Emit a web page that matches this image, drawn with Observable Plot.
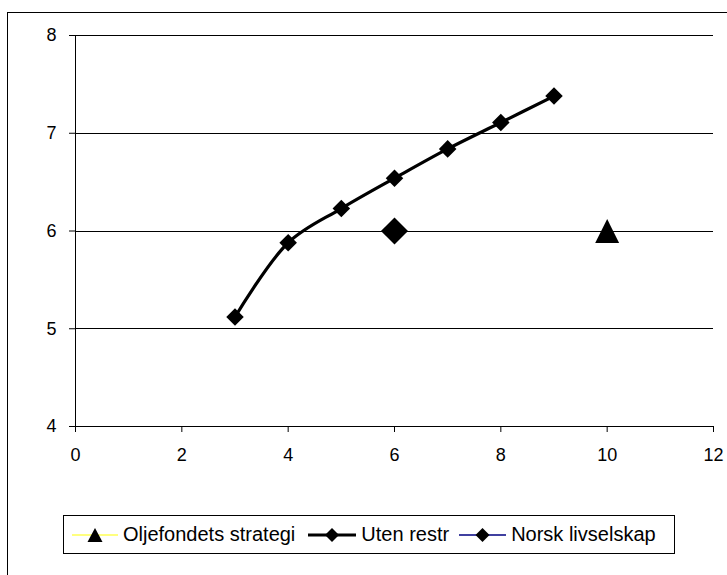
<!DOCTYPE html>
<html>
<head>
<meta charset="utf-8">
<script src="https://cdn.jsdelivr.net/npm/d3@7"></script>
<script src="https://cdn.jsdelivr.net/npm/@observablehq/plot@0.6"></script>
<style>
  html, body { margin: 0; padding: 0; background: #fff; width: 727px; height: 575px; overflow: hidden; }
  #frame { position: absolute; left: 7px; top: 12px; width: 900px; height: 800px; border-left: 1px solid #000; border-top: 1px solid #000; box-sizing: border-box; }
  #chart { position: absolute; left: 0; top: 0; }
  #chart svg text { font-size: 18px; }
  #legend { position: absolute; left: 63px; top: 515px; width: 612px; height: 39px; border: 1px solid #000; box-sizing: border-box; background: #fff;
    font-family: "Liberation Sans", Arial, sans-serif; font-size: 20px; color: #000; display: flex; align-items: center; padding-left: 8px; white-space: nowrap; }
  .item { display: flex; align-items: center; }
  .item svg { margin-right: 5px; }
</style>
</head>
<body>
<div id="frame"></div>
<div id="chart"></div>
<div id="legend"></div>
<script>
// Data
const xTicks = [0, 2, 4, 6, 8, 10, 12];
const yTicks = [4, 5, 6, 7, 8];
const gridY = [5, 6, 7, 8];

const utenX = [3, 4, 5, 6, 7, 8, 9];
const utenY = [5.12, 5.88, 6.23, 6.54, 6.84, 7.11, 7.38];

const norskX = [6];
const norskY = [6.0];

const oljeX = [10];
const oljeY = [6.0];

const seriesNames = ["Oljefondets strategi", "Uten restr", "Norsk livselskap"];
const seriesLineColors = ["#ffff00", "#000000", "#000080"];

const uten = utenX.map((x, i) => ({x, y: utenY[i]}));
const norsk = norskX.map((x, i) => ({x, y: norskY[i]}));
const olje = oljeX.map((x, i) => ({x, y: oljeY[i]}));

// Excel-style triangle marker (equal width and height, centred on its box)
const excelTriangle = {
  draw(context, size) {
    const h = Math.sqrt(size) / 2;
    context.moveTo(0, -h);
    context.lineTo(h, h);
    context.lineTo(-h, h);
    context.closePath();
  }
};

const chart = Plot.plot({
  width: 727,
  height: 470,
  marginLeft: 75,
  marginRight: 14,
  marginTop: 35,
  marginBottom: 44,
  style: { fontFamily: "Liberation Sans, Arial, sans-serif", fontSize: "18px", color: "#000", background: "transparent", overflow: "visible" },
  x: { domain: [0, 12] },
  y: { domain: [4, 8] },
  marks: [
    Plot.ruleY(gridY, { stroke: "#000", strokeWidth: 1, shapeRendering: "crispEdges" }),
    Plot.ruleY([4], { stroke: "#000", strokeWidth: 1, shapeRendering: "crispEdges" }),
    Plot.ruleX([0], { stroke: "#000", strokeWidth: 1, shapeRendering: "crispEdges" }),
    Plot.axisX({ ticks: xTicks, tickSize: 6, tickPadding: 16, fontSize: 18, label: null, tickFormat: d3.format("d") }),
    Plot.axisY({ ticks: yTicks, tickSize: 6, tickPadding: 13, fontSize: 18, label: null, tickFormat: d3.format("d") }),
    Plot.line(uten, { x: "x", y: "y", stroke: "#000", strokeWidth: 3.2, curve: "catmull-rom" }),
    Plot.dot(uten, { x: "x", y: "y", symbol: "diamond2", r: 7.9, fill: "#000", stroke: "none" }),
    Plot.dot(norsk, { x: "x", y: "y", symbol: "diamond2", r: 12.2, fill: "#000", stroke: "none" }),
    // size = π r²; r chosen so the triangle is about 24px wide and tall
    Plot.dot(olje, { x: "x", y: "y", symbol: excelTriangle, r: 13.5, fill: "#000", stroke: "none" })
  ]
});
document.getElementById("chart").appendChild(chart);

// Legend
const legend = document.getElementById("legend");
const lineLens = [46, 48, 47];
const gapsAfter = [13, 10, 0];
const widths = [1.2, 3, 1.5];
seriesNames.forEach((name, i) => {
  const L = lineLens[i], c = L / 2;
  const marker = i === 0
    ? `<path d="M${c},3 L${c + 7.5},17 L${c - 7.5},17 Z" fill="#000"/>`
    : `<path d="M${c},3 L${c + 7},10 L${c},17 L${c - 7},10 Z" fill="#000"/>`;
  const item = document.createElement("div");
  item.className = "item";
  item.style.marginRight = gapsAfter[i] + "px";
  item.innerHTML = `<svg width="${L}" height="20"><line x1="0" y1="10" x2="${L}" y2="10" stroke="${seriesLineColors[i]}" stroke-width="${widths[i]}"/>${marker}</svg><span>${name}</span>`;
  legend.appendChild(item);
});
</script>
</body>
</html>
